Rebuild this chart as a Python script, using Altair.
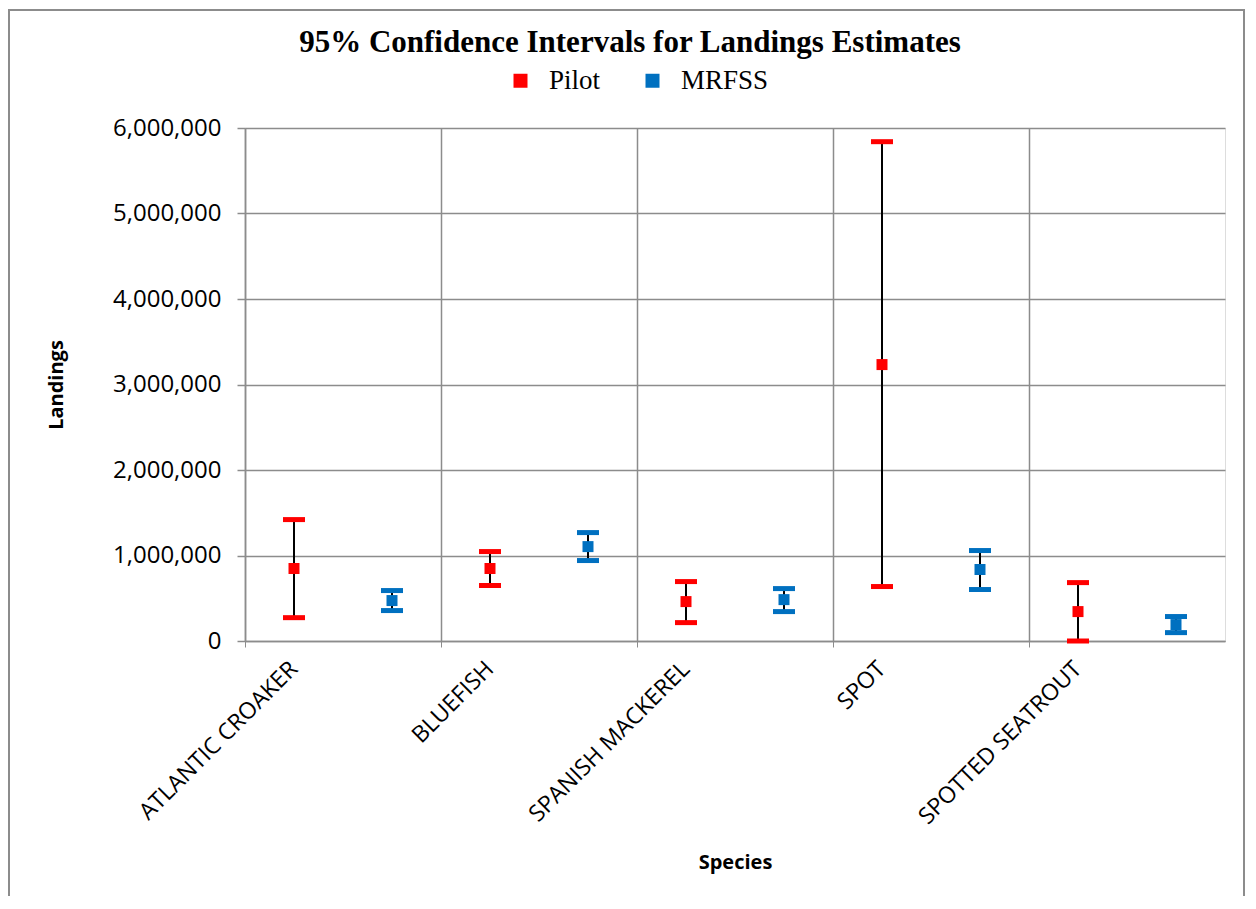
import altair as alt
import pandas as pd

species = ["ATLANTIC CROAKER", "BLUEFISH", "SPANISH MACKEREL", "SPOT", "SPOTTED SEATROUT"]
series = ["Pilot", "MRFSS"]

pilot_lo = [273000, 649000, 215000, 637000, 0]
pilot_est = [848000, 848000, 461000, 3233000, 344000]
pilot_hi = [1420000, 1046000, 695000, 5840000, 683000]

mrfss_lo = [356000, 941000, 344000, 602000, 98000]
mrfss_est = [473000, 1104000, 484000, 836000, 192000]
mrfss_hi = [590000, 1268000, 613000, 1058000, 286000]

y_ticks = [0, 1000000, 2000000, 3000000, 4000000, 5000000, 6000000]

title_text = "95% Confidence Intervals for Landings Estimates"

rows = []
for i, sp in enumerate(species):
    rows.append({"species": sp, "series": "Pilot", "lo": pilot_lo[i], "est": pilot_est[i], "hi": pilot_hi[i]})
    rows.append({"species": sp, "series": "MRFSS", "lo": mrfss_lo[i], "est": mrfss_est[i], "hi": mrfss_hi[i]})
df = pd.DataFrame(rows)

GRID = "#8c8c8c"
SANS = "Open Sans"
SERIF = "Liberation Serif"

color = alt.Color(
    "series:N",
    sort=series,
    scale=alt.Scale(domain=series, range=["#ff0000", "#0070c0"]),
    legend=alt.Legend(
        title=None,
        orient="none",
        legendX=262,
        legendY=-61,
        direction="horizontal",
        symbolType="square",
        symbolSize=196,
        symbolStrokeWidth=0,
        labelFont=SERIF,
        labelFontSize=27,
        labelColor="black",
        labelOffset=15,
        columnPadding=38,
    ),
)

base = alt.Chart(df).encode(
    x=alt.X(
        "species:N",
        sort=species,
        scale=alt.Scale(paddingInner=0, paddingOuter=0),
        axis=alt.Axis(
            title="Species",
            bandPosition=0,
            labelOffset=-49,
            labelAngle=-45,
            labelAlign="right",
            labelBaseline="middle",
            labelFont=SANS,
            labelFontSize=23,
            labelColor="black",
            labelPadding=18,
            labelOverlap=False,
            labelBound=False,
            labelLimit=0,
            grid=True,
            gridColor=GRID,
            gridWidth=1.5,
            tickColor=GRID,
            tickSize=6,
            domainColor=GRID,
            domainWidth=1.5,
            titleFont=SANS,
            titleFontSize=20,
            titleFontWeight="bold",
            titleColor="black",
            titlePadding=24,
        ),
    ),
    xOffset=alt.XOffset("series:N", sort=series, scale=alt.Scale(domain=series, paddingInner=0, paddingOuter=0)),
)

yscale = alt.Scale(domain=[0, 6000000], nice=False)
yaxis = alt.Axis(
    title="Landings",
    values=y_ticks,
    format=",d",
    labelFont=SANS,
    labelFontSize=24,
    labelColor="black",
    labelPadding=16,
    tickSize=8,
    tickColor=GRID,
    tickWidth=1.5,
    domainColor=GRID,
    domainWidth=1.5,
    grid=True,
    gridColor=GRID,
    gridWidth=1.5,
    titleFont=SANS,
    titleFontSize=20,
    titleFontWeight="bold",
    titleColor="black",
    titlePadding=46,
)

rule = base.mark_rule(color="black", strokeWidth=2).encode(
    y=alt.Y("lo:Q", scale=yscale, axis=yaxis),
    y2="hi:Q",
)
cap_hi = base.mark_tick(size=22, thickness=5, opacity=1).encode(y=alt.Y("hi:Q"), color=color)
cap_lo = base.mark_tick(size=22, thickness=5, opacity=1).encode(y=alt.Y("lo:Q"), color=color)
pts = base.mark_square(size=121, opacity=1).encode(y=alt.Y("est:Q"), color=color)

border = alt.Chart(alt.Data(values=[{"a": 1}])).mark_rect(
    filled=False, stroke="#8c8c8c", strokeWidth=2
).encode(
    x=alt.value(-236), x2=alt.value(999), y=alt.value(-118), y2=alt.value(900)
)

title = alt.Chart(alt.Data(values=[{"t": title_text}])).mark_text(
    font=SERIF, fontSize=31, fontWeight="bold", color="black", align="center", baseline="middle"
).encode(text="t:N", x=alt.value(385), y=alt.value(-85))

chart = alt.layer(border, title, rule, cap_hi, cap_lo, pts).properties(
    width=980,
    height=513,
    autosize=alt.AutoSizeParams(type="none"),
    padding={"left": 237, "top": 120, "right": 20, "bottom": 255},
).configure_view(stroke=GRID, strokeWidth=1.5).configure(background="white")

chart.save("out.html", embed_options={"renderer": "svg", "actions": False})
